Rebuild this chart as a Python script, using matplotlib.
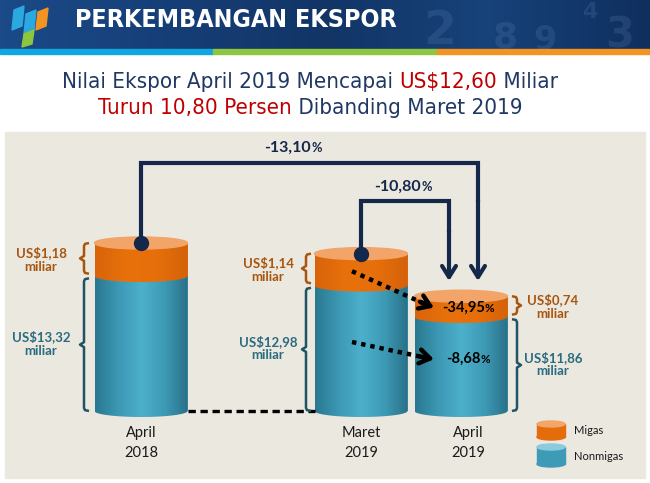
import numpy as np
import matplotlib.pyplot as plt
from matplotlib.patches import Rectangle, Ellipse, Polygon
from matplotlib.colors import LinearSegmentedColormap
from matplotlib.offsetbox import TextArea, HPacker, AnnotationBbox

# data: ekspor (US$ miliar)
periods = ['April\n2018', 'Maret\n2019', 'April\n2019']
migas = np.array([1.18, 1.14, 0.74])
nonmigas = np.array([13.32, 12.98, 11.86])
migas_lbl = ['US$1,18\nmiliar', 'US$1,14\nmiliar', 'US$0,74\nmiliar']
nonmigas_lbl = ['US$13,32\nmiliar', 'US$12,98\nmiliar', 'US$11,86\nmiliar']
chg_total = ['-13,10', '-10,80']
chg_parts = ['-34,95', '-8,68']

W, H = 650, 483
BASE, Y0, K = 8.5, 411, 28   # value BASE sits at pixel row Y0, K px per miliar


def V(py):
    return BASE + (Y0 - py) / K


xc = [141, 361, 461]
bw = 93
eh = 6 / K
navy = '#14284b'
brown = '#a8550f'
tealtx = '#2b6b80'
cond = dict(family='DejaVu Sans', stretch='condensed')
lato = ['Lato', 'DejaVu Sans']

fig = plt.figure(figsize=(6.5, 4.83), dpi=100)
bg = fig.add_axes([0, 0, 1, 1])
bg.set_xlim(0, W)
bg.set_ylim(H, 0)
bg.axis('off')

# header
hdr = np.linspace(0, 1, 300).reshape(1, -1)
hcm = LinearSegmentedColormap.from_list('h', ['#1b4a88', '#163f78', '#123566', '#17427a', '#0f2f5e'])
bg.imshow(hdr, extent=[0, W, 49, 0], aspect='auto', cmap=hcm, zorder=1)
for s, x, y, fs in [('2', 440, 32, 34), ('8', 505, 38, 26), ('9', 545, 40, 24),
                    ('3', 620, 36, 30), ('4', 590, 12, 16)]:
    bg.text(x, y, s, color='#5f86b8', alpha=0.22, fontsize=fs, fontweight='bold',
            ha='center', va='center', zorder=2)
bg.add_patch(Rectangle((0, 49), 213, 5, color='#11a6e0', zorder=3))
bg.add_patch(Rectangle((213, 49), 224, 5, color='#8dc63f', zorder=3))
bg.add_patch(Rectangle((437, 49), 213, 5, color='#f39322', zorder=3))
# logo
bg.add_patch(Polygon([[14, 10], [24, 6], [22, 26], [12, 30]], color='#2aa8e0', zorder=3))
bg.add_patch(Polygon([[26, 14], [36, 10], [34, 30], [24, 34]], color='#2aa8e0', zorder=3))
bg.add_patch(Polygon([[24, 34], [34, 30], [32, 44], [22, 47]], color='#8dc63f', zorder=3))
bg.add_patch(Polygon([[38, 12], [48, 8], [46, 26], [36, 30]], color='#f39322', zorder=3))
bg.text(75, 20, 'PERKEMBANGAN EKSPOR', color='white', fontsize=18, fontweight='bold',
        ha='left', va='center', zorder=4, **cond)


def rich(axis, x, y, parts):
    boxes = [TextArea(s, textprops=dict(color=c, fontsize=fs, fontweight=fw, **fp))
             for s, c, fs, fw, fp in parts]
    pk = HPacker(children=boxes, align='baseline', pad=0, sep=0)
    ab = AnnotationBbox(pk, (x, y), xycoords='data', frameon=False,
                        box_alignment=(0.5, 0.5), pad=0, zorder=20)
    axis.add_artist(ab)


red = '#c00000'
tnavy = '#1f3864'
rich(bg, 310, 82, [('Nilai Ekspor April 2019 Mencapai ', tnavy, 16, 'normal', cond),
                   ('US$12,60', red, 16, 'normal', cond),
                   (' Miliar', tnavy, 16, 'normal', cond)])
rich(bg, 310, 108, [('Turun 10,80 Persen', red, 16, 'normal', cond),
                    (' Dibanding Maret 2019', tnavy, 16, 'normal', cond)])

# panel
bg.add_patch(Rectangle((5, 132), 640, 346, color='#ebe8df', zorder=0))

# legend cylinders
bg.add_patch(Rectangle((537, 424), 28, 13, color='#e46c0a', zorder=3))
bg.add_patch(Ellipse((551, 437), 28, 6, color='#e46c0a', zorder=3))
bg.add_patch(Ellipse((551, 424), 28, 6, color='#f3a56a', zorder=4))
bg.add_patch(Rectangle((537, 447), 28, 17, color='#3d9bb7', zorder=3))
bg.add_patch(Ellipse((551, 464), 28, 6, color='#3d9bb7', zorder=3))
bg.add_patch(Ellipse((551, 447), 28, 6, color='#8ccbdc', zorder=4))
bg.text(574, 431, 'Migas', fontsize=8, family=lato, color='#1a1a1a', va='center')
bg.text(574, 456, 'Nonmigas', fontsize=8, family=lato, color='#1a1a1a', va='center')

# chart axes: x in pixels, y in US$ miliar
ax = fig.add_axes([0, 0, 1, 1])
ax.patch.set_visible(False)
ax.axis('off')

teal_cm = LinearSegmentedColormap.from_list('t', ['#2a7890', '#3c98b4', '#4db0cb', '#3d9ab5', '#2a7189'])
orng_cm = LinearSegmentedColormap.from_list('o', ['#d8640a', '#e8710c', '#e66f0b', '#d4620a'])
grad = np.linspace(0, 1, 200).reshape(1, -1)

top = nonmigas + migas
ax.bar(xc, nonmigas - BASE, bottom=BASE, width=bw, color='#3d9bb7', zorder=2)
ax.bar(xc, migas, bottom=nonmigas, width=bw, color='#e46c0a', zorder=2)

z = 3
for x, lo, hi, cm in [(xc[i], BASE, nonmigas[i], teal_cm) for i in range(3)] + \
                     [(xc[i], nonmigas[i], top[i], orng_cm) for i in range(3)]:
    t = np.linspace(np.pi, 2 * np.pi, 60)
    pts = np.column_stack([x + bw / 2 * np.cos(t), lo + eh * np.sin(t)])
    pts = np.vstack([pts, [[x + bw / 2, hi], [x - bw / 2, hi]]])
    clip = Polygon(pts, closed=True, fc='none', ec='none', zorder=z)
    ax.add_patch(clip)
    im = ax.imshow(grad, extent=[x - bw / 2, x + bw / 2, lo - eh, hi], aspect='auto',
                   cmap=cm, zorder=z, interpolation='bilinear')
    im.set_clip_path(clip)
    z += 0.1
for i in range(3):
    ax.add_patch(Ellipse((xc[i], top[i]), bw, 2 * eh, color='#f2a469', zorder=4))

# baseline dashes between April 2018 and Maret 2019
ax.plot([xc[0] + bw / 2, xc[1] - bw / 2], [BASE, BASE], color='black', lw=2.4,
        ls=(0, (2.2, 1.4)), zorder=5)

# connectors
ax.plot([xc[0], xc[0], 478, 478], [top[0], V(163), V(163), V(200)], color=navy, lw=3,
        solid_joinstyle='miter', zorder=6)
ax.annotate('', xy=(478, V(281)), xytext=(478, V(200)),
            arrowprops=dict(arrowstyle='->,head_length=0.8,head_width=0.5', lw=3,
                            color=navy, shrinkA=0, shrinkB=0), zorder=6)
ax.plot([xc[1], xc[1], 449, 449], [top[1], V(201), V(201), V(230)], color=navy, lw=3,
        solid_joinstyle='miter', zorder=6)
ax.annotate('', xy=(449, V(281)), xytext=(449, V(230)),
            arrowprops=dict(arrowstyle='->,head_length=0.8,head_width=0.5', lw=3,
                            color=navy, shrinkA=0, shrinkB=0), zorder=6)
ax.plot([xc[0], xc[1]], [top[0], top[1]], 'o', ms=10, color=navy, zorder=7)

latob = dict(family=lato)
pct = lambda s, fs, c: [(s, c, fs, 'bold', latob), ('%', c, fs * 0.8, 'bold', latob)]
rich(ax, 293, V(148), pct(chg_total[0], 11.5, navy))
rich(ax, 403, V(187), pct(chg_total[1], 11.5, navy))

# dotted arrows Maret -> April 2019
starts = [nonmigas[1] + migas[1] * 0.45, nonmigas[1] * 0.55 + BASE * 0.45]
ends = [nonmigas[2] + migas[2] * 0.45, nonmigas[2] * 0.55 + BASE * 0.45]
for s, e, lab in zip(starts, ends, chg_parts):
    ax.plot([352, 424], [s, s + (e - s) * 72 / 81], color='black', lw=3.2,
            ls=(0, (1, 1.1)), zorder=8)
    ax.annotate('', xy=(434, e), xytext=(420, s + (e - s) * 68 / 81),
                arrowprops=dict(arrowstyle='->,head_length=0.75,head_width=0.5', lw=3.2,
                                color='black', shrinkA=0, shrinkB=0), zorder=8)
    rich(ax, 468, e, pct(lab, 10.5, 'black'))


# braces
def brace(x, lo, hi, side, color):
    d, m = 3 / K, 2.5 / K
    ym = (lo + hi) / 2
    xs = [x + 5 * side, x + 1 * side, x, x, x - 4 * side, x, x, x + 1 * side, x + 5 * side]
    ys = [hi, hi - d * 0.3, hi - d, ym + m, ym, ym - m, lo + d, lo + d * 0.3, lo]
    ax.plot(xs, ys, color=color, lw=1.8, solid_joinstyle='round', solid_capstyle='butt', zorder=6)


bx = [84, 306, 517]
side = [1, 1, -1]
lx = [41, 268, 553]
for i in range(3):
    brace(bx[i], nonmigas[i] + 0.08, top[i], side[i], brown)
    brace(bx[i], BASE, nonmigas[i] - 0.08, side[i], '#1f5366')
    ax.text(lx[i], nonmigas[i] + migas[i] / 2, migas_lbl[i], color=brown, fontsize=9.5,
            fontweight='bold', family=lato, ha='center', va='center', linespacing=1.15, zorder=9)
    ax.text(lx[i], (BASE + nonmigas[i]) / 2, nonmigas_lbl[i], color=tealtx, fontsize=9.5,
            fontweight='bold', family=lato, ha='center', va='center', linespacing=1.15, zorder=9)
    ax.text(xc[i] + (7 if i == 2 else 0), V(443), periods[i], color='#1a1a1a', fontsize=10.5,
            family=lato, ha='center', va='center', linespacing=1.55, zorder=9)

ax.set_xlim(0, W)
ax.set_ylim(V(H), V(0))
fig.savefig('out.png', dpi=100)
